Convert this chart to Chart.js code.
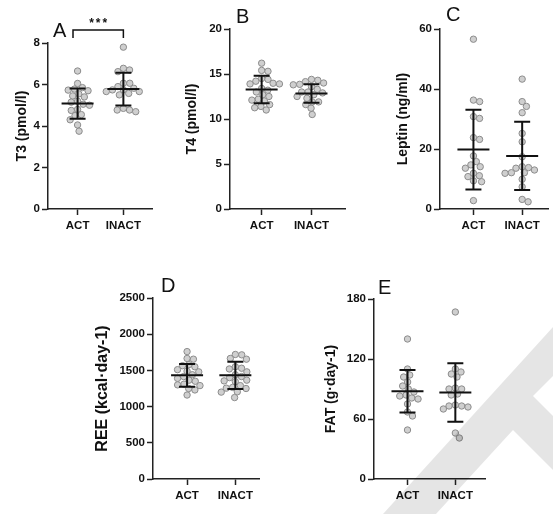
<!DOCTYPE html>
<html>
  <head>
    <title>ACT vs INACT</title>
    <script src="https://cdn.jsdelivr.net/npm/chart.js"></script>
    <style>
      body { margin: 0; width: 553px; height: 514px; background: #fff; position: relative; overflow: hidden;
             font-family: "Liberation Sans", Arial, sans-serif; }
      canvas { position: absolute; }
      .lbl { position: absolute; font-size: 20px; line-height: 20px; color: #111; }
      svg { position: absolute; left: 0; top: 0; pointer-events: none; }
    </style>
  </head>
  <body>
    <canvas id="cA" width="143" height="249" style="left:14px;top:0"></canvas>
    <canvas id="cB" width="166" height="249" style="left:184px;top:0"></canvas>
    <canvas id="cC" width="158" height="249" style="left:395px;top:0"></canvas>
    <canvas id="cD" width="171" height="259" style="left:93px;top:255px"></canvas>
    <canvas id="cE" width="167" height="259" style="left:323px;top:255px"></canvas>
    <div class="lbl" style="left:53px;top:20px">A</div>
    <div class="lbl" style="left:236px;top:6px">B</div>
    <div class="lbl" style="left:446px;top:4px">C</div>
    <div class="lbl" style="left:161px;top:275px">D</div>
    <div class="lbl" style="left:378px;top:277px">E</div>
    <svg width="553" height="514">
      <polygon points="383,514 553,327 553,376 533,396 553,416 553,470 513,430 436,514" fill="rgba(0,0,0,0.1)" />
    </svg>
    <script>
      const groups = ["ACT", "INACT"];

      // T3 (pmol/l)
      const t3Act = [6.65, 6.05, 5.85, 5.78, 5.73, 5.7, 5.55, 5.45, 5.4, 5.2, 5.15, 5.05, 5.0, 4.8, 4.75, 4.55, 4.5, 4.3, 4.05, 3.75];
      const t3Inact = [7.8, 6.78, 6.7, 6.62, 6.06, 6.06, 5.9, 5.82, 5.74, 5.74, 5.66, 5.66, 5.57, 5.5, 4.85, 4.77, 4.77, 4.69];
      const t3Mean = [5.08, 5.78];
      const t3Sd = [0.73, 0.79];

      // T4 (pmol/l)
      const t4Act = [16.2, 15.4, 15.3, 14.5, 14.4, 14.2, 13.97, 13.9, 13.9, 13.4, 13.2, 13.0, 12.7, 12.5, 12.2, 12.1, 12.0, 11.6, 11.4, 11.25, 11.0];
      const t4Inact = [14.4, 14.3, 14.15, 14.0, 13.85, 13.8, 13.6, 13.3, 13.0, 13.0, 12.9, 12.7, 12.5, 12.3, 11.9, 11.9, 11.6, 11.2, 10.5];
      const t4Mean = [13.28, 12.83];
      const t4Sd = [1.53, 1.03];

      // Leptin (ng/ml)
      const lepAct = [56.6, 36.3, 35.8, 30.8, 30.2, 23.8, 23.2, 17.7, 15.8, 14.7, 14.1, 13.6, 11.9, 11.1, 10.8, 9.4, 9.1, 2.8];
      const lepInact = [43.3, 35.8, 34.2, 32.1, 25.2, 22.4, 17.4, 14.1, 13.8, 13.6, 13.0, 12.1, 12.1, 11.9, 9.9, 7.4, 3.2, 2.4];
      const lepMean = [19.8, 17.7];
      const lepSd = [13.3, 11.4];

      // REE (kcal·day-1)
      const reeAct = [1760, 1665, 1655, 1580, 1565, 1550, 1510, 1490, 1480, 1440, 1415, 1390, 1365, 1350, 1310, 1300, 1290, 1250, 1230, 1160];
      const reeInact = [1720, 1715, 1665, 1655, 1550, 1530, 1520, 1480, 1440, 1415, 1400, 1365, 1355, 1345, 1290, 1265, 1255, 1250, 1205, 1200, 1125];
      const reeMean = [1432, 1432];
      const reeSd = [157, 188];

      // FAT (g·day-1)
      const fatAct = [140, 110, 104, 102, 97, 93, 90, 87, 84, 83, 81, 80, 75, 67, 63, 49];
      const fatInact = [167, 110, 107, 105, 102, 91, 90, 90, 85, 84, 74, 73, 73, 72, 70, 46, 41];
      const fatMean = [87.7, 86.5];
      const fatSd = [21.3, 29.2];

      Chart.defaults.font.family = '"Liberation Sans", Arial, sans-serif';
      Chart.defaults.color = "#111";

      const DOT = 6.4; // min distance between dot centres

      // spread the dots sideways so they do not pile up (beeswarm)
      const swarm = {
        id: "swarm",
        afterDatasetsUpdate(chart) {
          const xs = chart.scales.x;
          chart.data.datasets.forEach((ds, i) => {
            const meta = chart.getDatasetMeta(i);
            const cx = xs.getPixelForValue(ds.data[0].x);
            const placed = [];
            meta.data.forEach((pt) => {
              const y = pt.y;
              const cands = [0];
              placed.forEach((p) => {
                const dy = Math.abs(p.y - y);
                if (dy < DOT) {
                  const dx = Math.sqrt(DOT * DOT - dy * dy);
                  cands.push(p.dx + dx, p.dx - dx);
                }
              });
              cands.sort((a, b) => Math.abs(a) - Math.abs(b));
              const dx = cands.find((c) =>
                placed.every((p) => (p.dx - c) ** 2 + (p.y - y) ** 2 >= DOT * DOT - 0.01)
              );
              placed.push({ dx, y });
              pt.x = cx + dx;
            });
          });
        },
      };

      // mean +- SD
      const errBars = {
        id: "errBars",
        afterDatasetsDraw(chart, args, opts) {
          const { ctx } = chart;
          const x = chart.scales.x, y = chart.scales.y;
          ctx.save();
          ctx.strokeStyle = "#111";
          ctx.lineWidth = 2;
          opts.mean.forEach((m, i) => {
            const cx = x.getPixelForValue(i + 1);
            const yt = y.getPixelForValue(m + opts.sd[i]);
            const yb = y.getPixelForValue(m - opts.sd[i]);
            const ym = y.getPixelForValue(m);
            ctx.beginPath();
            ctx.moveTo(cx, yt); ctx.lineTo(cx, yb);
            ctx.moveTo(cx - 8, yt); ctx.lineTo(cx + 8, yt);
            ctx.moveTo(cx - 8, yb); ctx.lineTo(cx + 8, yb);
            ctx.moveTo(cx - 16, ym); ctx.lineTo(cx + 16, ym);
            ctx.stroke();
          });
          ctx.restore();
        },
      };

      // significance bracket
      const bracket = {
        id: "bracket",
        afterDraw(chart, args, opts) {
          if (!opts.text) return;
          const { ctx, chartArea } = chart;
          const x = chart.scales.x;
          const x1 = x.getPixelForValue(opts.from), x2 = x.getPixelForValue(opts.to);
          const yb = chartArea.top - 5, yt = chartArea.top - 13;
          ctx.save();
          ctx.strokeStyle = "#111";
          ctx.lineWidth = 1.5;
          ctx.beginPath();
          ctx.moveTo(x1, yb); ctx.lineTo(x1, yt); ctx.lineTo(x2, yt); ctx.lineTo(x2, yb);
          ctx.stroke();
          ctx.fillStyle = "#111";
          ctx.font = 'bold 12px "Liberation Sans", Arial, sans-serif';
          ctx.letterSpacing = "2px";
          ctx.textAlign = "center";
          ctx.fillText(opts.text, (x1 + x2) / 2 + 1, yt - 3);
          ctx.restore();
        },
      };

      function panel(id, p) {
        const dot = { pointRadius: 3.2, borderWidth: 1, backgroundColor: "#cfcfcf", borderColor: "#8c8c8c", clip: false };
        new Chart(document.getElementById(id), {
          type: "scatter",
          data: {
            datasets: [
              { ...dot, data: p.act.map((v) => ({ x: 1, y: v })) },
              { ...dot, data: p.inact.map((v) => ({ x: 2, y: v })) },
            ],
          },
          plugins: [swarm, errBars, bracket],
          options: {
            responsive: false,
            animation: false,
            layout: { padding: { top: p.top, left: 0, right: 0, bottom: 0 } },
            plugins: {
              legend: { display: false },
              tooltip: { enabled: false },
              errBars: { mean: p.mean, sd: p.sd },
              bracket: p.bracket || {},
            },
            scales: {
              x: {
                type: "linear",
                min: p.xMin,
                max: p.xMax,
                afterBuildTicks: (axis) => { axis.ticks = groups.map((g, i) => ({ value: i + 1 })); },
                afterFit: (axis) => { axis.height = p.xH; },
                ticks: { callback: (v) => groups[v - 1], font: { size: 11.5, weight: "bold" }, padding: 4, maxRotation: 0 },
                grid: { drawOnChartArea: false, tickLength: 6, tickWidth: 1.5, tickColor: "#222" },
                border: { color: "#222", width: 1.5 },
              },
              y: {
                min: 0,
                max: p.yMax,
                ticks: { stepSize: p.yStep, callback: (v) => String(v), font: { size: 11.5, weight: "bold" }, padding: 2 },
                afterFit: (axis) => { axis.width = p.yW; },
                grid: { drawOnChartArea: false, tickLength: 6, tickWidth: 1.5, tickColor: "#222" },
                border: { color: "#222", width: 1.5 },
                title: { display: true, text: p.title, font: { size: p.titleSize || 14, weight: "bold" }, padding: 0 },
              },
            },
          },
        });
      }

      panel("cA", { act: t3Act, inact: t3Inact, mean: t3Mean, sd: t3Sd, yMax: 8, yStep: 2, title: "T3 (pmol/l)",
                    top: 43, yW: 34, xH: 40, xMin: 0.354, xMax: 2.625, bracket: { from: 0.9, to: 2, text: "***" } });
      panel("cB", { act: t4Act, inact: t4Inact, mean: t4Mean, sd: t4Sd, yMax: 20, yStep: 5, title: "T4 (pmol/l)",
                    top: 29, yW: 46, xH: 40, xMin: 0.365, xMax: 2.673 });
      panel("cC", { act: lepAct, inact: lepInact, mean: lepMean, sd: lepSd, yMax: 60, yStep: 20, title: "Leptin (ng/ml)",
                    top: 29, yW: 45, xH: 40, xMin: 0.314, xMax: 2.53 });
      panel("cD", { act: reeAct, inact: reeInact, mean: reeMean, sd: reeSd, yMax: 2500, yStep: 500, title: "REE (kcal·day-1)",
                    titleSize: 16, top: 43, yW: 60, xH: 35, xMin: 0.294, xMax: 2.49 });
      panel("cE", { act: fatAct, inact: fatInact, mean: fatMean, sd: fatSd, yMax: 180, yStep: 60, title: "FAT (g·day-1)",
                    top: 44, yW: 51, xH: 35, xMin: 0.3, xMax: 2.62 });
    </script>
  </body>
</html>
